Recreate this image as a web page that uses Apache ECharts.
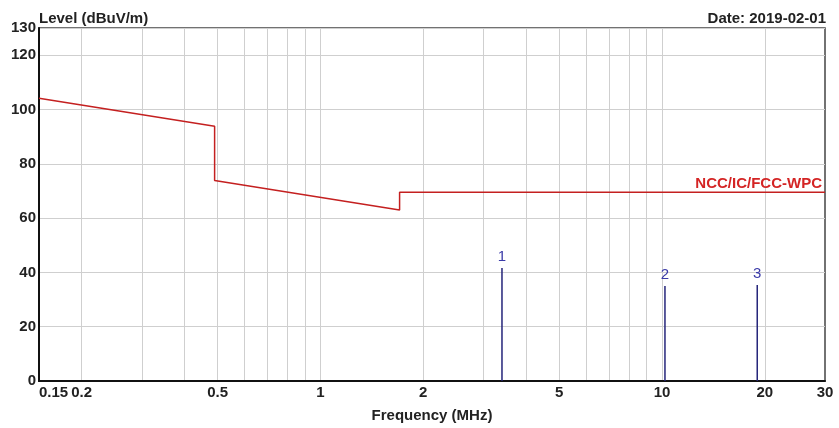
<!DOCTYPE html>
<html>
<head>
<meta charset="utf-8">
<script src="https://cdn.jsdelivr.net/npm/echarts@6/dist/echarts.min.js"></script>
<style>
  html, body { margin: 0; padding: 0; background: #fff; }
  #chart { width: 839px; height: 428px; }
</style>
</head>
<body>
<div id="chart"></div>
<script>
// limit line NCC/IC/FCC-WPC (MHz / dBuV/m)
var limitFreq = [0.15, 0.49, 0.49, 1.705, 1.705, 30];
var limitLevel = [104.1, 93.8, 73.8, 63.0, 69.5, 69.5];

// marker peaks
var peakNames = ['1', '2', '3'];
var peakFreq = [3.4, 10.2, 19.0];
var peakLevel = [41.6, 35.0, 35.4];

// x axis ticks
var freqLabels = [0.15, 0.2, 0.5, 1, 2, 5, 10, 20, 30];
var freqGrid = [0.2, 0.3, 0.4, 0.5, 0.6, 0.7, 0.8, 0.9, 1, 2, 3, 4, 5, 6, 7, 8, 9, 10, 20];

var lg = function(v) { return Math.log10(v); };
var font = '"Liberation Sans", Arial, sans-serif';

var chart = echarts.init(document.getElementById('chart'));

var option = {
  animation: false,
  backgroundColor: '#fff',
  title: [{
    text: 'Level (dBuV/m)',
    left: 34,
    top: 6,
    textStyle: { fontFamily: font, fontSize: 15, fontWeight: 'bold', color: '#222' }
  }, {
    text: 'Date: 2019-02-01',
    right: 8,
    top: 6,
    textStyle: { fontFamily: font, fontSize: 15, fontWeight: 'bold', color: '#222' }
  }],
  grid: {
    left: 39, right: 14, top: 28, bottom: 43,
    show: true,
    borderColor: '#444',
    borderWidth: 1.5
  },
  xAxis: {
    type: 'value',
    min: lg(0.15),
    max: lg(30),
    name: 'Frequency (MHz)',
    nameLocation: 'middle',
    nameGap: 27,
    nameTextStyle: { fontFamily: font, fontSize: 15, fontWeight: 'bold', color: '#222' },
    axisLine: { show: true, onZero: false, lineStyle: { color: '#111', width: 2 } },
    axisTick: { show: false, customValues: freqGrid.map(lg) },
    axisLabel: {
      customValues: freqLabels.map(lg),
      formatter: function(v) { return String(parseFloat(Math.pow(10, v).toPrecision(3))); },
      alignMinLabel: 'left',
      hideOverlap: false,
      margin: 4,
      fontFamily: font, fontSize: 15, fontWeight: 'bold', color: '#222'
    },
    splitLine: { show: true, lineStyle: { color: '#cfcfcf', width: 1 } }
  },
  yAxis: {
    type: 'value',
    min: 0,
    max: 130,
    interval: 20,
    axisLine: { show: true, onZero: false, lineStyle: { color: '#111', width: 2 } },
    axisTick: { show: false },
    axisLabel: { margin: 3, fontFamily: font, fontSize: 15, fontWeight: 'bold', color: '#222' },
    splitLine: { show: true, lineStyle: { color: '#cfcfcf', width: 1 } }
  },
  series: [{
    name: 'NCC/IC/FCC-WPC',
    type: 'line',
    data: limitFreq.map(function(f, i) { return [lg(f), limitLevel[i]]; }),
    symbol: 'none',
    lineStyle: { color: '#c42020', width: 1.5 },
    endLabel: {
      show: true,
      formatter: 'NCC/IC/FCC-WPC',
      align: 'right',
      verticalAlign: 'bottom',
      distance: 0,
      offset: [-3, -1],
      color: '#d42424',
      fontFamily: font,
      fontWeight: 'bold',
      fontSize: 15
    },
    z: 3
  }, {
    name: 'peaks',
    type: 'bar',
    barWidth: 1.5,
    data: peakFreq.map(function(f, i) {
      return { value: [lg(f), peakLevel[i]], name: peakNames[i] };
    }),
    itemStyle: { color: '#24247a' },
    label: {
      show: true,
      position: 'top',
      distance: 4,
      formatter: '{b}',
      color: '#3a3aa8',
      fontFamily: font,
      fontSize: 15
    },
    z: 4
  }]
};
chart.setOption(option);
</script>
</body>
</html>
